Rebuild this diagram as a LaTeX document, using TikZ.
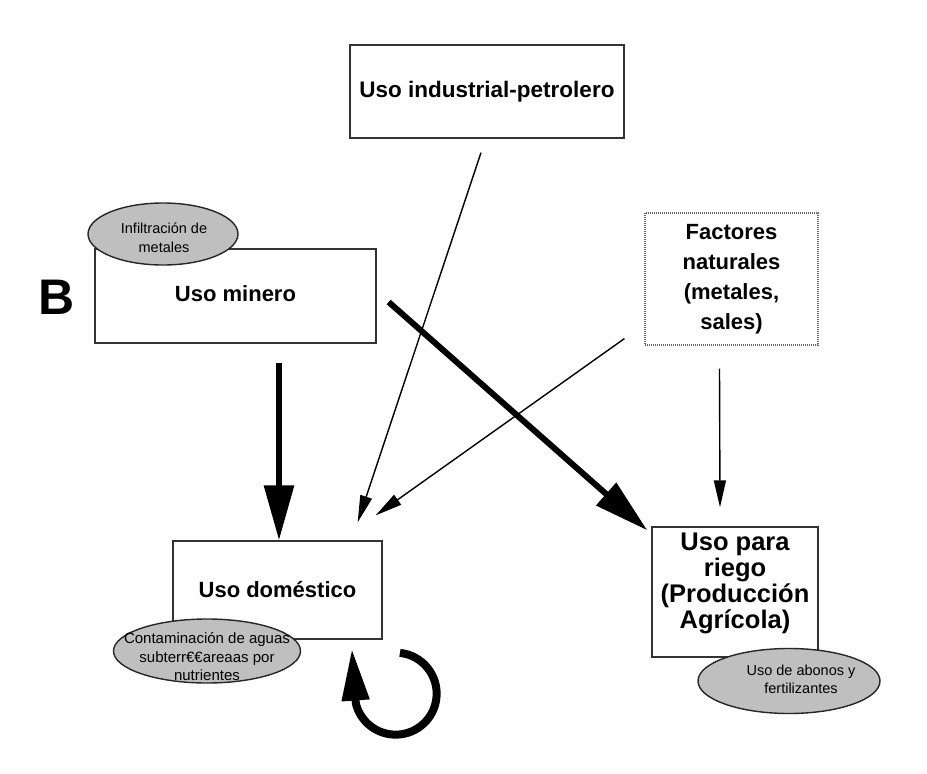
\documentclass[tikz,border=0pt]{standalone}
\usepackage{fontspec}
\setmainfont{Liberation Sans}
\usetikzlibrary{arrows.meta,shapes.geometric,calc}

\begin{document}
\begin{tikzpicture}[x=1pt,y=1pt,
  box/.style={draw=black!80, line width=1.3pt, rectangle, inner sep=0pt, align=center,
              font=\bfseries\fontsize{22}{30}\selectfont},
  blob/.style={draw=black!85, line width=1.4pt, ellipse, fill=black!25, inner sep=0pt},
  note/.style={align=center, inner sep=0pt, font=\fontsize{15}{18.5}\selectfont},
  heavy/.style={line width=6pt, -{Triangle[length=55pt,width=29pt]}},
  light/.style={line width=1.4pt, -{Triangle[length=27pt,width=12pt]}},
]
\useasboundingbox (0,0) rectangle (927,-774);

% side label
\node[inner sep=0pt] (lbl) at (57,-297) {\bfseries\fontsize{50}{50}\selectfont B};

% water uses
\node[box, minimum width=274, minimum height=93, font=\bfseries\fontsize{22.5}{26}\selectfont]
  (ind) at (487,-91.5) {Uso industrial-petrolero};
\node[box, minimum width=281, minimum height=94] (min) at (235.5,-296) {\raisebox{5pt}{Uso minero}};
\node[box, draw=black!60, dash pattern=on 1pt off 1pt, line width=1.2pt,
      minimum width=173, minimum height=132] (nat) at (731.5,-279)
  {Factores\\naturales\\(metales,\\sales)};
\node[box, minimum width=209, minimum height=98] (dom) at (277.5,-590) {Uso doméstico};
\node[box, minimum width=166, minimum height=130, font=\bfseries\fontsize{25.5}{26}\selectfont]
  (rie) at (735,-592) {\\[-28pt]Uso para\\riego\\(Producción\\Agrícola)};

% pollution sources
\node[blob, minimum width=150, minimum height=62] (inf) at (163,-234) {};
\node[blob, minimum width=187, minimum height=64] (con) at (207,-651) {};
\node[blob, minimum width=182, minimum height=65] (abo) at (789,-681) {};
\node[note, font=\fontsize{14.5}{19}\selectfont] (inft) at ($(inf)+(1,-3.5)$) {Infiltración de\\metales};
\node[note] (cont) at ($(con)+(0,-6)$) {Contaminación de aguas\\subterr€€areaas por\\nutrientes};
\node[note, font=\fontsize{14.5}{18}\selectfont] (abot) at ($(abo)+(12,2)$) {Uso de abonos y\\fertilizantes};

% flows
\draw[heavy] ($(dom.north |- min.south)+(1.5,-19)$) -- ($(dom.north)+(1.5,0)$);
\draw[heavy] ($(min.east)+(12,-6)$) -- ($(rie.north west)+(-4,-4)$);
\draw[light] ($(ind.south)+(-6,-14)$) -- ($(dom.north east)+(-25,18)$);
\draw[light] ($(nat.south west)+(-20,7)$) -- ($(dom.north east)+(-7,25)$);
\draw[light] ($(nat.south)+(-12,-23)$) -- ($(rie.north)+(-15,19)$);

% recirculation loop below the domestic use
\draw[line width=8pt, -{Triangle[length=52pt,width=26pt]}]
  ($(dom.south east)+(13,-54)$) ++(84:41) arc[start angle=84, end angle=-166, radius=41]
  -- ++(-4,55);
\end{tikzpicture}
\end{document}
